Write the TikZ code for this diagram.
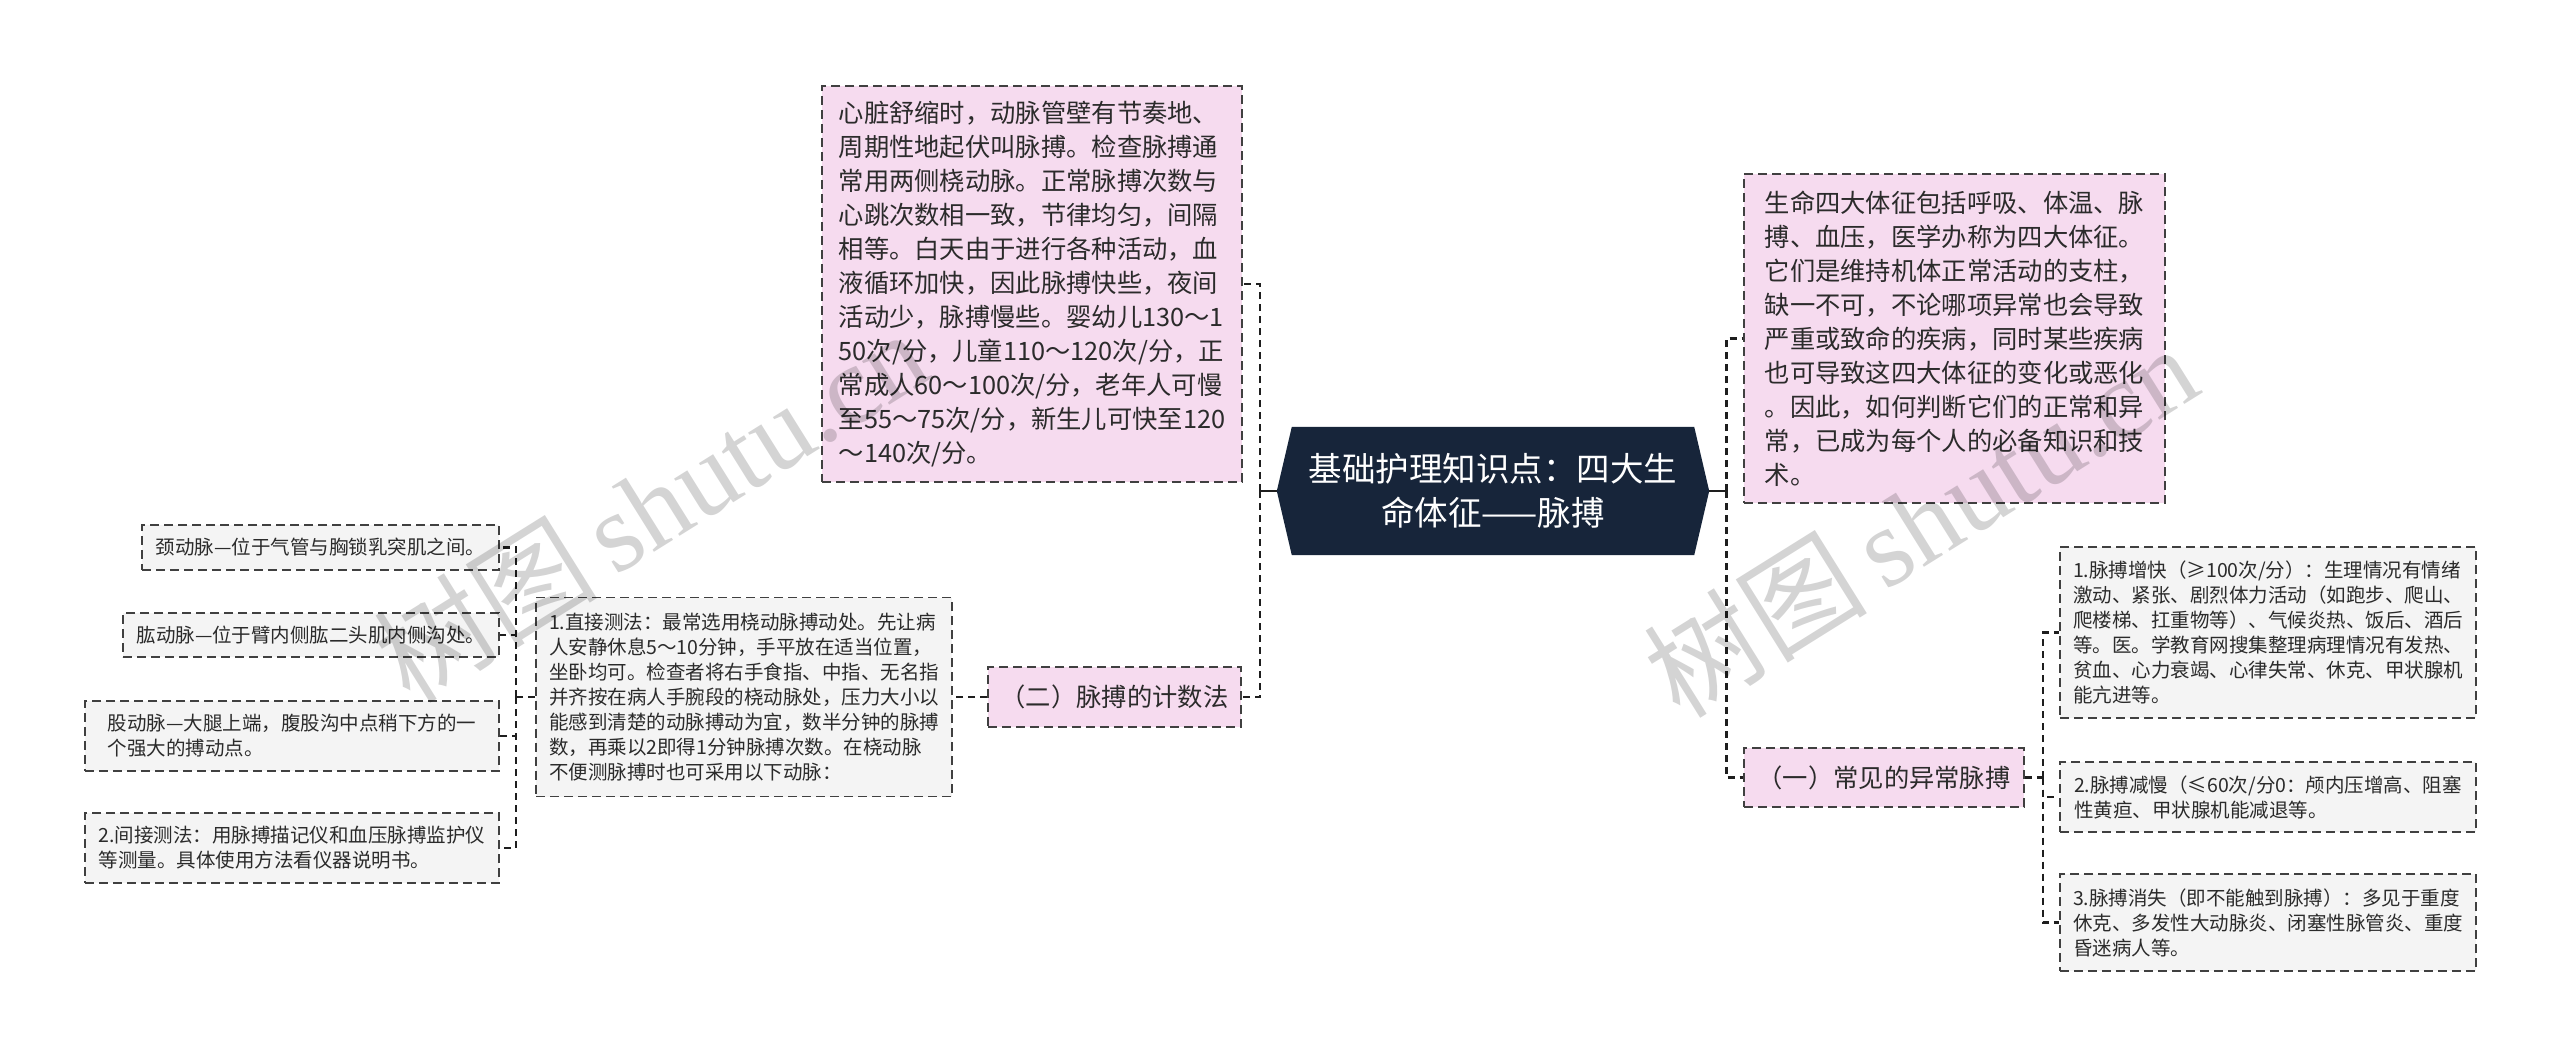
\documentclass[tikz,border=0pt]{standalone}
\usepackage{fontspec}
\setmainfont{Noto Sans CJK SC}
\newfontfamily\wmlatin{Liberation Serif}
\usetikzlibrary{backgrounds}
\definecolor{navy}{HTML}{17253A}
\definecolor{pinkfill}{HTML}{F6DBEF}
\definecolor{grayfill}{HTML}{F4F4F4}
\definecolor{ink}{HTML}{2B2B2B}
\definecolor{edgecol}{HTML}{1E1E1E}
\begin{document}
\begin{tikzpicture}[x=1pt,y=-1pt,
  box/.style={draw=edgecol!85, line width=1.8pt, dash pattern=on 9pt off 5pt, align=left, text=ink, inner sep=0pt, anchor=center},
  pinkbox/.style={box, fill=pinkfill},
  graybox/.style={box, fill=grayfill},
  bigtxt/.style={font=\fontsize{25.3pt}{34pt}\selectfont},
  smalltxt/.style={font=\fontsize{19.5pt}{25pt}\selectfont},
  conn/.style={draw=edgecol, line width=2.6pt, dash pattern=on 7pt off 5pt},
  solidconn/.style={draw=edgecol, line width=2.6pt},
  wm/.style={text=black, opacity=0.17, font=\fontsize{112pt}{112pt}\selectfont, rotate=32}
]
\begin{scope}[on background layer]
\useasboundingbox[fill=white] (0,0) rectangle (2560,1055);
\end{scope}

% root
\node[rectangle, inner sep=0pt, minimum width=432pt, minimum height=128pt, text=white, align=center,
      font=\fontsize{33.5pt}{44pt}\selectfont] (root) at (1493,491) {基础护理知识点：四大生\\命体征——脉搏};
\begin{scope}[on background layer]
\fill[navy] (root.west) -- ([xshift=15pt]root.north west) -- ([xshift=-15pt]root.north east) -- (root.east)
  -- ([xshift=-15pt]root.south east) -- ([xshift=15pt]root.south west) -- cycle;
\end{scope}

% left side
\node[pinkbox, bigtxt, minimum width=420pt, minimum height=396pt] (desc) at (1032,284) {心脏舒缩时，动脉管壁有节奏地、\\周期性地起伏叫脉搏。检查脉搏通\\常用两侧桡动脉。正常脉搏次数与\\心跳次数相一致，节律均匀，间隔\\相等。白天由于进行各种活动，血\\液循环加快，因此脉搏快些，夜间\\活动少，脉搏慢些。婴幼儿130～1\\50次/分，儿童110～120次/分，正\\常成人60～100次/分，老年人可慢\\至55～75次/分，新生儿可快至120\\～140次/分。};

\node[pinkbox, bigtxt, align=center, minimum width=253pt, minimum height=60pt] (count) at (1114.5,697) {（二）脉搏的计数法};

\node[graybox, smalltxt, minimum width=416pt, minimum height=199pt] (direct) at (744,697) {1.直接测法：最常选用桡动脉搏动处。先让病\\人安静休息5～10分钟，手平放在适当位置，\\坐卧均可。检查者将右手食指、中指、无名指\\并齐按在病人手腕段的桡动脉处，压力大小以\\能感到清楚的动脉搏动为宜，数半分钟的脉搏\\数，再乘以2即得1分钟脉搏次数。在桡动脉\\不便测脉搏时也可采用以下动脉：};

\node[graybox, smalltxt, minimum width=357pt, minimum height=45pt] (neck) at (320.5,547.5) {颈动脉—位于气管与胸锁乳突肌之间。};
\node[graybox, smalltxt, minimum width=376pt, minimum height=44pt] (arm) at (311,635) {肱动脉—位于臂内侧肱二头肌内侧沟处。};
\node[graybox, smalltxt, minimum width=414pt, minimum height=70pt] (femoral) at (292,736) {股动脉—大腿上端，腹股沟中点稍下方的一\\个强大的搏动点。};
\node[graybox, smalltxt, minimum width=414pt, minimum height=70pt] (indirect) at (292,848) {2.间接测法：用脉搏描记仪和血压脉搏监护仪\\等测量。具体使用方法看仪器说明书。};

% right side
\node[pinkbox, bigtxt, minimum width=421pt, minimum height=329pt] (intro) at (1954.5,338.5) {生命四大体征包括呼吸、体温、脉\\搏、血压，医学办称为四大体征。\\它们是维持机体正常活动的支柱，\\缺一不可，不论哪项异常也会导致\\严重或致命的疾病，同时某些疾病\\也可导致这四大体征的变化或恶化\\。因此，如何判断它们的正常和异\\常，已成为每个人的必备知识和技\\术。};

\node[pinkbox, bigtxt, align=center, minimum width=280pt, minimum height=59pt] (abn) at (1884,777.5) {（一）常见的异常脉搏};

\node[graybox, smalltxt, minimum width=416pt, minimum height=171pt] (fast) at (2268,632.5) {1.脉搏增快（≥100次/分）：生理情况有情绪\\激动、紧张、剧烈体力活动（如跑步、爬山、\\爬楼梯、扛重物等）、气候炎热、饭后、酒后\\等。医。学教育网搜集整理病理情况有发热、\\贫血、心力衰竭、心律失常、休克、甲状腺机\\能亢进等。};
\node[graybox, smalltxt, minimum width=416pt, minimum height=70pt] (slow) at (2268,797) {2.脉搏减慢（≤60次/分0：颅内压增高、阻塞\\性黄疸、甲状腺机能减退等。};
\node[graybox, smalltxt, minimum width=416pt, minimum height=97pt] (gone) at (2268,922.5) {3.脉搏消失（即不能触到脉搏）：多见于重度\\休克、多发性大动脉炎、闭塞性脉管炎、重度\\昏迷病人等。};

% connectors
\coordinate (lbus) at ([xshift=-17pt]root.west);
\coordinate (rbus) at ([xshift=17pt]root.east);
\draw[solidconn] (root.west) -- (lbus);
\draw[conn] (lbus) |- (desc.east);
\draw[conn] (lbus) |- (count.east);
\draw[solidconn] (root.east) -- (rbus);
\draw[conn] (rbus) |- (intro.west);
\draw[conn] (rbus) |- (abn.west);

\draw[conn] (count.west) -- (direct.east);
\coordinate (dbus) at ([xshift=-19pt]direct.west);
\draw[conn] (direct.west) -- (dbus);
\draw[conn] (dbus) |- (neck.east);
\draw[conn] (dbus) |- (arm.east);
\draw[conn] (dbus) |- (femoral.east);
\draw[conn] (dbus) |- (indirect.east);

\coordinate (abus) at ([xshift=18pt]abn.east);
\draw[conn] (abn.east) -- (abus);
\draw[conn] (abus) |- (fast.west);
\draw[conn] (abus) |- (slow.west);
\draw[conn] (abus) |- (gone.west);

% watermarks
\node[wm] (wm1) at (650,505) {树图\,{\wmlatin shutu.cn}};
\node[wm] (wm2) at (1920,520) {树图\,{\wmlatin shutu.cn}};
\end{tikzpicture}
\end{document}
